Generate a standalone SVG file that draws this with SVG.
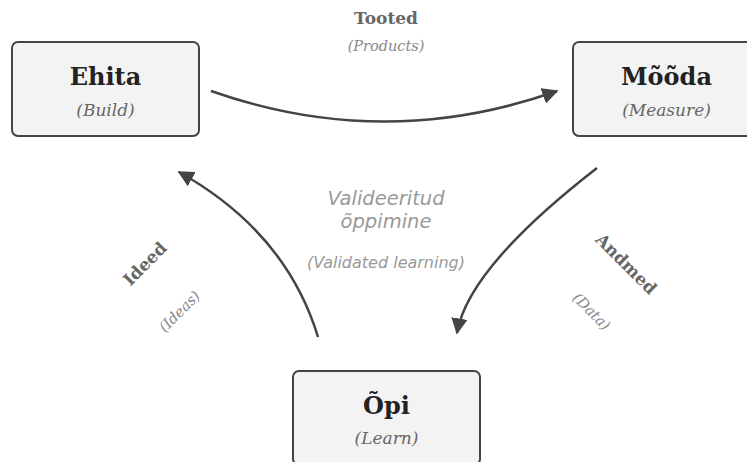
<svg xmlns="http://www.w3.org/2000/svg" width="747" height="462" viewBox="0 0 747 462">
<style>
.box{fill:#f3f3f3;stroke:#444;stroke-width:2}
.title{font-family:"DejaVu Serif",serif;font-weight:bold;font-size:24px;fill:#222;text-anchor:middle}
.sub{font-family:"DejaVu Serif",serif;font-style:italic;font-size:17px;fill:#666;text-anchor:middle}
.lbl{font-family:"DejaVu Serif",serif;font-weight:bold;font-size:17px;fill:#666;text-anchor:middle}
.lsub{font-family:"DejaVu Serif",serif;font-style:italic;font-size:14.5px;fill:#888;text-anchor:middle}
.ctr{font-family:"DejaVu Sans",sans-serif;font-style:italic;font-size:19.5px;fill:#999;text-anchor:middle}
.ctrs{font-family:"DejaVu Sans",sans-serif;font-style:italic;font-size:16px;fill:#999;text-anchor:middle}
.conn{fill:none;stroke:#444;stroke-width:2.5}
</style>
<defs>
<marker id="ah" viewBox="0 0 10 10" refX="9" refY="5" markerWidth="6.5" markerHeight="6.5" markerUnits="strokeWidth" orient="auto">
<path d="M0,0 L10,5 L0,10 z" fill="#444"/>
</marker>
</defs>
<rect width="747" height="462" fill="#fff"/>
<g id="connectors">
<path class="conn" d="M211,91 Q385,152 557,91" marker-end="url(#ah)"/>
<path class="conn" d="M597,168 Q468,268 457,333" marker-end="url(#ah)"/>
<path class="conn" d="M318,337 Q286,232 179,172" marker-end="url(#ah)"/>
</g>
<g id="ehita">
<rect class="box" x="12" y="42" width="187" height="94" rx="6"/>
<text class="title" x="105.5" y="85">Ehita</text>
<text class="sub" x="105.5" y="116">(Build)</text>
</g>
<g id="mooda">
<rect class="box" x="573" y="42" width="187" height="94" rx="6"/>
<text class="title" x="666.5" y="85">Mõõda</text>
<text class="sub" x="666.5" y="116">(Measure)</text>
</g>
<g id="opi">
<rect class="box" x="293" y="371" width="187" height="94" rx="6"/>
<text class="title" x="386.5" y="414">Õpi</text>
<text class="sub" x="386.5" y="444">(Learn)</text>
</g>
<g id="labels">
<text class="lbl" x="386" y="24">Tooted</text>
<text class="lsub" x="386" y="51">(Products)</text>
<text class="lbl" transform="translate(149,268) rotate(-45)">Ideed</text>
<text class="lsub" transform="translate(183,315) rotate(-45)">(Ideas)</text>
<text class="lbl" transform="translate(622,268) rotate(45)">Andmed</text>
<text class="lsub" transform="translate(588,315) rotate(45)">(Data)</text>
<text class="ctr" x="386" y="205">Valideeritud</text>
<text class="ctr" x="386" y="228">õppimine</text>
<text class="ctrs" x="386" y="268">(Validated learning)</text>
</g>
</svg>
